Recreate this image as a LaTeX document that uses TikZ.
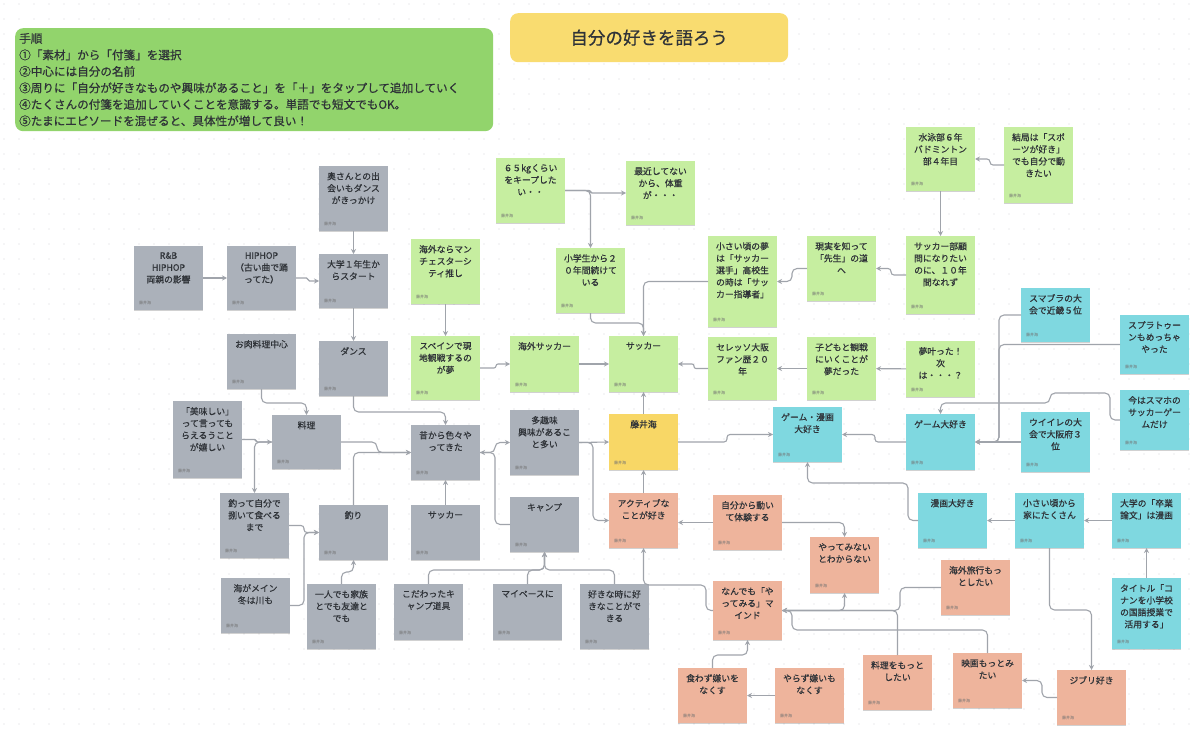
\documentclass[tikz,border=0pt]{standalone}
\usepackage{fontspec}
\setmainfont{Noto Sans CJK JP}
\newfontfamily\notefont{Noto Sans CJK JP}[FakeBold=0.6]
\usetikzlibrary{arrows.meta, shadows}
\definecolor{graynote}{HTML}{ABB1BA}
\definecolor{greennote}{HTML}{C6EEA0}
\definecolor{yellownote}{HTML}{F8D766}
\definecolor{salmonnote}{HTML}{EEB49C}
\definecolor{cyannote}{HTML}{7FD8E0}
\definecolor{stepsgreen}{HTML}{92D46C}
\definecolor{titleyellow}{HTML}{F9DC70}
\definecolor{linkgray}{HTML}{A0A4AB}
\definecolor{textdark}{HTML}{2F3338}
\definecolor{dotgray}{HTML}{D6D8DB}

\begin{document}
\begin{tikzpicture}[x=1pt, y=-1pt,
    note/.style={anchor=north west, minimum width=69pt, inner sep=0pt, outer sep=0pt,
                 drop shadow={shadow xshift=0pt, shadow yshift=-1.2pt, fill=black, opacity=0.18},
                 label={[author]south west:藤井海}},
    gnote/.style={note, fill=graynote},
    lnote/.style={note, fill=greennote},
    ynote/.style={note, fill=yellownote},
    snote/.style={note, fill=salmonnote},
    cnote/.style={note, fill=cyannote},
    ntext/.style={anchor=north, yshift=-6pt, text width=64pt, align=center, inner sep=0pt,
                  font=\notefont\fontsize{8.8}{12}\selectfont, text=textdark},
    author/.style={anchor=south west, xshift=5pt, yshift=5pt, inner sep=0pt,
                   font=\fontsize{4}{4}\selectfont, text=black!55},
    conn/.style={draw=linkgray, line width=1.1pt, rounded corners=5pt,
                 -{Stealth[length=5pt, width=5pt]}},
    jog/.style={rounded corners=1.5pt}]

    \fill[white] (0,0) rectangle (1200,738);
    \useasboundingbox (0,0) rectangle (1200,738);
    \foreach \i in {0,...,80}{\foreach \j in {0,...,49}{\fill[dotgray] (\i*15+4,\j*15+4) circle (0.7pt);}}

    % 手順とタイトル
    \node[anchor=north west, fill=stepsgreen, rounded corners=8pt, text width=470pt, inner xsep=4pt,
          minimum height=103pt, align=left, font=\notefont\fontsize{11.6}{16.5}\selectfont, text=textdark]
          (steps) at (15,28) {手順\\①「素材」から「付箋」を選択\\②中心には自分の名前\\③周りに「自分が好きなものや興味があること」を「＋」をタップして追加していく\\④たくさんの付箋を追加していくことを意識する。単語でも短文でもOK。\\⑤たまにエピソードを混ぜると、具体性が増して良い！};
    \node[anchor=north west, fill=titleyellow, rounded corners=8pt, minimum width=278pt, minimum height=49pt,
          font=\notefont\fontsize{17.5}{20}\selectfont, text=textdark] (title) at (510,13) {自分の好きを語ろう};

    % 中心
    \node[ynote, minimum height=56pt, label={[ntext]north:藤井海}] (fujii) at (609,414) {};

    % グレー
    \node[gnote, minimum height=65pt, label={[ntext]north:{奥さんとの出\\会いもダンス\\がきっかけ}}] (oku) at (319,166) {};
    \node[gnote, minimum height=64pt, label={[ntext]north:{R\&B\\HIPHOP\\両親の影響}}] (rnb) at (134,246) {};
    \node[gnote, minimum height=64pt, label={[ntext]north:{HIPHOP\\（古い曲で踊\\ってた）}}] (hiphop) at (227,246) {};
    \node[gnote, minimum height=54pt, label={[ntext]north:{大学１年生か\\らスタート}}] (daigaku) at (319,254) {};
    \node[gnote, minimum height=55pt, label={[ntext]north:{お肉料理中心}}] (oniku) at (227,334) {};
    \node[gnote, minimum height=55pt, label={[ntext]north:{ダンス}}] (dance) at (319,341) {};
    \node[gnote, minimum height=77pt, label={[ntext]north:{「美味しい」\\って言っても\\らえるうこと\\が嬉しい}}] (oishii) at (173,401) {};
    \node[gnote, minimum height=54pt, label={[ntext]north:{料理}}] (ryouri) at (272,415) {};
    \node[gnote, minimum height=55pt, label={[ntext]north:{昔から色々や\\ってきた}}] (mukashi) at (411,425) {};
    \node[gnote, minimum height=65pt, label={[ntext]north:{釣って自分で\\捌いて食べる\\まで}}] (tsutte) at (220,493) {};
    \node[gnote, minimum height=55pt, label={[ntext]north:{釣り}}] (tsuri) at (319,505) {};
    \node[gnote, minimum height=55pt, label={[ntext]north:{サッカー}}] (soccerg) at (411,505) {};
    \node[gnote, minimum height=65pt, label={[ntext]north:{多趣味\\興味があるこ\\と多い}}] (tashumi) at (510,410) {};
    \node[gnote, minimum height=55pt, label={[ntext]north:{キャンプ}}] (camp) at (510,497) {};
    \node[gnote, minimum height=55pt, label={[ntext]north:{海がメイン\\冬は川も}}] (umi) at (221,578) {};
    \node[gnote, minimum height=65pt, label={[ntext]north:{一人でも家族\\とでも友達と\\でも}}] (hitori) at (307,584) {};
    \node[gnote, minimum height=56pt, label={[ntext]north:{こだわったキ\\ャンプ道具}}] (kodawari) at (394,584) {};
    \node[gnote, minimum height=56pt, label={[ntext]north:{マイペースに}}] (mypace) at (493,584) {};
    \node[gnote, minimum height=65pt, label={[ntext]north:{好きな時に好\\きなことがで\\きる}}] (sukina) at (580,584) {};

    % 緑
    \node[lnote, minimum height=65pt, label={[ntext]north:{６５kgくらい\\をキープした\\い・・}}] (kg) at (496,158) {};
    \node[lnote, minimum height=64pt, label={[ntext]north:{最近してない\\から、体重\\が・・・}}] (saikin) at (626,161) {};
    \node[lnote, minimum height=65pt, label={[ntext]north:{海外ならマン\\チェスターシ\\ティ推し}}] (man) at (411,239) {};
    \node[lnote, minimum height=65pt, label={[ntext]north:{小学生から２\\０年間続けて\\いる}}] (shogaku) at (556,248) {};
    \node[lnote, minimum height=64pt, label={[ntext]north:{スペインで現\\地観戦するの\\が夢}}] (spain) at (411,336) {};
    \node[lnote, minimum height=56pt, label={[ntext]north:{海外サッカー}}] (kaigai) at (510,336) {};
    \node[lnote, minimum height=56pt, label={[ntext]north:{サッカー}}] (soccer) at (609,336) {};
    \node[lnote, minimum height=64pt, label={[ntext]north:{水泳部６年\\バドミントン\\部４年目}}] (suiei) at (906,127) {};
    \node[lnote, minimum height=76pt, label={[ntext]north:{結局は「スポ\\ーツが好き」\\でも自分で動\\きたい}}] (kekkyoku) at (1004,127) {};
    \node[lnote, minimum height=91pt, label={[ntext]north:{小さい頃の夢\\は「サッカー\\選手」高校生\\の時は「サッ\\カー指導者」}}] (yume) at (708,236) {};
    \node[lnote, minimum height=65pt, label={[ntext]north:{現実を知って\\「先生」の道\\へ}}] (genjitsu) at (807,236) {};
    \node[lnote, minimum height=78pt, label={[ntext]north:{サッカー部顧\\問になりたい\\のに、１０年\\間なれず}}] (komon) at (906,236) {};
    \node[lnote, minimum height=63pt, label={[ntext]north:{セレッソ大阪\\ファン歴２０\\年}}] (cerezo) at (708,337) {};
    \node[lnote, minimum height=63pt, label={[ntext]north:{子どもと観戦\\にいくことが\\夢だった}}] (kodomo) at (807,337) {};
    \node[lnote, minimum height=56pt, label={[ntext]north:{夢叶った！\\次\\は・・・？}}] (kanatta) at (906,341) {};

    % サーモン
    \node[snote, minimum height=55pt, label={[ntext]north:{アクティブな\\ことが好き}}] (active) at (609,493) {};
    \node[snote, minimum height=55pt, label={[ntext]north:{自分から動い\\て体験する}}] (jibun) at (713,495) {};
    \node[snote, minimum height=56pt, label={[ntext]north:{やってみない\\とわからない}}] (yatte) at (810,537) {};
    \node[snote, minimum height=59pt, label={[ntext]north:{なんでも「や\\ってみる」マ\\インド}}] (nandemo) at (713,581) {};
    \node[snote, minimum height=55pt, label={[ntext]north:{海外旅行もっ\\としたい}}] (ryoko) at (941,560) {};
    \node[snote, minimum height=55pt, label={[ntext]north:{食わず嫌いを\\なくす}}] (kuwazu) at (678,668) {};
    \node[snote, minimum height=55pt, label={[ntext]north:{やらず嫌いも\\なくす}}] (yarazu) at (775,668) {};
    \node[snote, minimum height=55pt, label={[ntext]north:{料理をもっと\\したい}}] (ryourimotto) at (863,655) {};
    \node[snote, minimum height=55pt, label={[ntext]north:{映画もっとみ\\たい}}] (eiga) at (953,653) {};
    \node[snote, minimum height=55pt, label={[ntext]north:{ジブリ好き}}] (ghibli) at (1057,670) {};

    % 水色
    \node[cnote, minimum height=55pt, label={[ntext]north:{ゲーム・漫画\\大好き}}] (gamemanga) at (773,407) {};
    \node[cnote, minimum height=56pt, label={[ntext]north:{ゲーム大好き}}] (game) at (906,414) {};
    \node[cnote, minimum height=54pt, label={[ntext]north:{スマブラの大\\会で近畿５位}}] (sumabura) at (1021,288) {};
    \node[cnote, minimum height=59pt, label={[ntext]north:{スプラトゥー\\ンもめっちゃ\\やった}}] (spla) at (1120,315) {};
    \node[cnote, minimum height=60pt, label={[ntext]north:{今はスマホの\\サッカーゲー\\ムだけ}}] (ima) at (1120,390) {};
    \node[cnote, minimum height=60pt, label={[ntext]north:{ウイイレの大\\会で大阪府３\\位}}] (uiire) at (1021,412) {};
    \node[cnote, minimum height=55pt, label={[ntext]north:{漫画大好き}}] (manga) at (918,493) {};
    \node[cnote, minimum height=55pt, label={[ntext]north:{小さい頃から\\家にたくさん}}] (chiisai) at (1015,493) {};
    \node[cnote, minimum height=55pt, label={[ntext]north:{大学の「卒業\\論文」は漫画}}] (sotsuron) at (1112,493) {};
    \node[cnote, minimum height=71pt, label={[ntext]north:{タイトル「コ\\ナンを小学校\\の国語授業で\\活用する」}}] (conan) at (1112,578) {};

    % ダンス・料理・釣り・キャンプ
    \draw[conn] (oku) -- (daigaku);
    \draw[conn] (rnb) -- (hiphop);
    \draw[conn, jog] (hiphop.east) -- ++(12,0) |- (daigaku.west);
    \draw[conn] (daigaku) -- (dance);
    \draw[conn] (dance.south) -- (353.5,412) -| (mukashi.north);
    \draw[conn] (oniku.south) -- (261.5,403) -| (ryouri.north);
    \draw[conn, jog] (oishii.east) -- ++(14,0) |- (ryouri.west);
    \draw[conn] (ryouri.west) -| (tsutte.north);
    \draw[conn] (ryouri.east) -- (377,442) |- (mukashi.west);
    \draw[conn] (tsuri.north) |- (mukashi.west);
    \draw[conn, rounded corners=3pt] (tsutte.east) -- (304,525.5) |- (tsuri.west);
    \draw[conn] (umi.east) -- (304,605.5) |- (tsuri.west);
    \draw[conn] (hitori.north) -- (341.5,572) -| (tsuri.south);
    \draw[conn] (soccerg) -- (mukashi);
    \draw[conn] (camp.west) -- (495,524.5) |- (mukashi.east);
    \draw[conn] (mukashi.east) -- (495,452.5) |- (tashumi.west);
    \draw[conn] (kodawari.north) -- (428.5,570) -| (camp.south);
    \draw[conn] (mypace.north) -- (527.5,570) -| (camp.south);
    \draw[conn] (sukina.north) -- (614.5,570) -| (camp.south);

    % 中心まわり
    \draw[conn] (tashumi.east) -- (fujii.west);
    \draw[conn] (tashumi.east) -- (593,442.5) |- (active.west);
    \draw[conn] (active) -- (fujii);
    \draw[conn] (fujii) -- (soccer);
    \draw[conn, rounded corners=3pt] (fujii.east) -- (727,442) |- (gamemanga.west);

    % サッカー
    \draw[conn, jog] (kg.east) -- (590.5,190.5) |- (saikin.west);
    \draw[conn] (kg.east) -| (shogaku.north);
    \draw[conn] (shogaku.south) -- (590.5,323) -| (soccer.north);
    \draw[conn] (yume.west) -| (soccer.north);
    \draw[conn] (genjitsu.west) -- (792,268.5) |- (yume.east);
    \draw[conn, rounded corners=3pt] (komon.west) -- (891,275) |- (genjitsu.east);
    \draw[conn] (suiei) -- (komon);
    \draw[conn, rounded corners=3pt] (kekkyoku.west) -- (990,165) |- (suiei.east);
    \draw[conn] (kanatta) -- (kodomo);
    \draw[conn] (kodomo) -- (cerezo);
    \draw[conn, rounded corners=2pt] (cerezo.west) -- (694,368.5) |- (soccer.east);
    \draw[conn] (kaigai) -- (soccer);
    \draw[conn, rounded corners=2pt] (spain.east) -- (496,368) |- (kaigai.west);
    \draw[conn] (man) -- (spain);

    % アクティブ
    \draw[conn] (jibun.west) -- (active.east |- jibun.west);
    \draw[conn] (jibun.east) -| (yatte.north);
    \draw[conn] (nandemo.west) -- (706,610.5) -- (706,585) -- (643.5,585) -- (active.south);
    \draw[conn] (yarazu) -- (kuwazu);
    \draw[conn] (kuwazu.north) -- (712.5,655) -| (nandemo.south);
    \draw[conn] (nandemo.east) -| (yatte.south);
    \draw[conn] (ryoko.west) -- (900,587.5) |- (nandemo.east);
    \draw[conn] (ryourimotto.north) |- (nandemo.east);
    \draw[conn] (eiga.north) -- (987.5,630) -- (792,630) |- (nandemo.east);
    \draw[conn] (ghibli.west) -- (1042,697.5) |- (eiga.east);

    % ゲーム・漫画
    \draw[conn] (chiisai.south) -- (1049.5,610) -| (ghibli.north);
    \draw[conn] (conan) -- (sotsuron);
    \draw[conn] (sotsuron) -- (chiisai);
    \draw[conn] (chiisai) -- (manga);
    \draw[conn] (manga.west) -- (908,520.5) -- (908,483) -| (gamemanga.south);
    \draw[conn, rounded corners=3pt] (game.west) -- (875,442) |- (gamemanga.east);
    \draw[conn] (uiire) -- (game);
    \draw[conn] (sumabura.west) -- (999,315) |- (game.east);
    \draw[conn] (spla.west) -- (999,344.5) |- (game.east);
    \draw[conn] (ima.west) -- (1110,420) -- (1110,393) -- (1050,393) -- (1050,403) -- (940.5,403) -- (game.north);

\end{tikzpicture}
\end{document}
